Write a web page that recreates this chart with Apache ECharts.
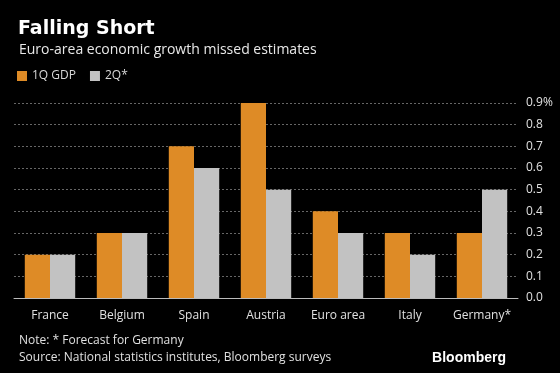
<!DOCTYPE html>
<html><head><meta charset="utf-8">
<script src="https://cdn.jsdelivr.net/npm/echarts@6/dist/echarts.min.js"></script>
<style>html,body{margin:0;padding:0;background:#000;}#c{width:560px;height:373px;}</style>
</head><body><div id="c"></div>
<script>
const categories = ['France','Belgium','Spain','Austria','Euro area','Italy','Germany*'];
const q1 = [0.2,0.3,0.7,0.9,0.4,0.3,0.3];
const q2 = [0.2,0.3,0.6,0.5,0.3,0.2,0.5];
const seriesNames = ['1Q GDP','2Q*'];
const yTicks = [0,0.1,0.2,0.3,0.4,0.5,0.6,0.7,0.8,0.9];
const FONT = '"Open Sans", sans-serif';
const chart = echarts.init(document.getElementById('c'), null, {renderer:'canvas'});
chart.setOption({
  backgroundColor:'#000',
  animation:false,
  title:[
    {text:'Falling Short', left:13, top:15, textStyle:{color:'#fff', fontSize:19, fontWeight:'bold', fontFamily:'"DejaVu Sans", sans-serif'}},
    {text:'Euro-area economic growth missed estimates', left:14, top:38, textStyle:{color:'#e8e8e8', fontSize:14, fontWeight:'normal', fontFamily:FONT}},
    {text:'Note: * Forecast for Germany\nSource: National statistics institutes, Bloomberg surveys', left:14, top:327, textStyle:{color:'#e0e0e0', fontSize:12, lineHeight:17, fontWeight:'normal', fontFamily:FONT}},
    {text:'Bloomberg', right:49, top:346, textStyle:{color:'#fff', fontSize:14, fontWeight:'bold', fontFamily:'"Liberation Sans", Arial, sans-serif'}}
  ],
  legend:{
    data:seriesNames, left:12, top:65, itemWidth:10, itemHeight:10, itemGap:14, icon:'rect',
    textStyle:{color:'#d8d8d8', fontSize:12, fontFamily:FONT}
  },
  grid:{left:14, right:42, top:103, bottom:75, containLabel:false, outerBoundsMode:'none'},
  xAxis:{
    type:'category', data:categories,
    axisLine:{lineStyle:{color:'#bbb', width:1}},
    axisTick:{alignWithLabel:true, length:5, lineStyle:{color:'#bbb'}},
    axisLabel:{color:'#e0e0e0', fontSize:12, fontFamily:FONT, margin:12, interval:0}
  },
  yAxis:{
    type:'value', position:'right', min:0, max:0.9, interval:0.1,
    axisLine:{show:false}, axisTick:{show:false},
    splitLine:{lineStyle:{color:'#666', type:[2,2], width:1}},
    axisLabel:{color:'#e0e0e0', fontSize:12, fontFamily:FONT, margin:8,
      formatter:function(v){ const t=yTicks.reduce((a,b)=>Math.abs(b-v)<Math.abs(a-v)?b:a); return t===0.9? t.toFixed(1)+'%' : t.toFixed(1);} }
  },
  series:[
    {name:seriesNames[0], type:'bar', data:q1, itemStyle:{color:'#DE8B26'}, barGap:'0%', barCategoryGap:'30%'},
    {name:seriesNames[1], type:'bar', data:q2, itemStyle:{color:'#C2C2C2'}, barGap:'0%', barCategoryGap:'30%'}
  ]
});
</script></body></html>
